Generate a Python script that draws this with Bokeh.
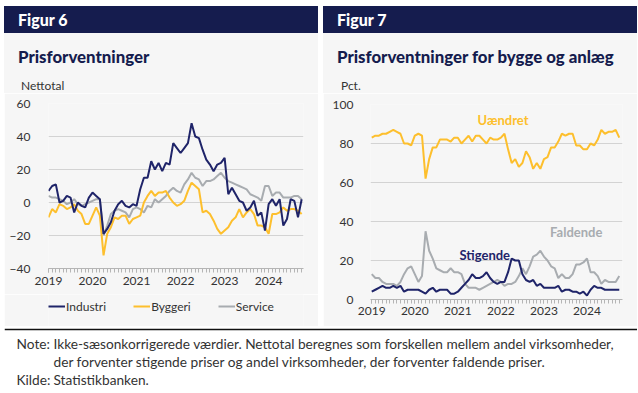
from bokeh.plotting import figure
from bokeh.models import (Range1d, FixedTicker, Label, Legend, LegendItem, Span,
                          Div, Spacer)
from bokeh.layouts import row, column
from bokeh.embed import file_html
from bokeh.resources import INLINE

# ---------------- data ----------------
months = list(range(70))          # Jan 2019 .. Oct 2024
year_ticks = [0, 12, 24, 36, 48, 60]
year_labels = ["2019", "2020", "2021", "2022", "2023", "2024"]

industri = [7, 10, 11, 0, 1, 4, 3, -6, 0, -2,
            -3, 3, 6, 4, 2, -19, -16, -12, -5, -1,
            1, -2, -3, -1, -2, 8, 15, 15, 25, 20,
            24, 19, 24, 23, 36, 33, 30, 33, 36, 48,
            40, 39, 32, 26, 23, 19, 23, 24, 27, 5,
            9, 5, 1, 0, -5, -3, 1, -8, -6, -17,
            -1, 2, -2, 2, -14, -10, 2, 1, -9, 2]
byggeri = [-9, -4, -6, -1, -2, -4, -3, -1, -5, -7,
           -13, -13, -8, -3, -8, -32, -19, -15, -9, -10,
           -8, -8, -13, -10, -9, -8, 0, 4, 7, 4,
           6, 6, 7, 3, 0, -2, -1, 1, 7, 12,
           10, 8, -6, -5, -7, -11, -16, -19, -17, -15,
           -11, -9, -4, -9, -6, -4, -7, -14, -14, -15,
           -19, -7, -7, -6, -3, -5, -4, -4, -5, -7]
service = [4, 3, 3, 2, 1, -1, 0, 2, -1, -2,
           -1, 0, 1, 2, 2, -20, -14, -7, -5, -4,
           -5, -6, -9, -4, -3, -4, -6, -2, -3, 2,
           0, 2, 4, 7, 9, 7, 6, 11, 14, 18,
           15, 14, 10, 13, 13, 14, 16, 18, 15, 13,
           12, 11, 10, 9, 8, 5, 4, 3, 1, 10,
           10, 4, 6, 6, 3, 3, 3, 4, 4, 2]

uaendret = [83, 84, 84, 85, 85, 86, 87, 86, 85, 80,
            80, 79, 84, 85, 84, 62, 72, 78, 78, 82,
            82, 82, 81, 83, 83, 80, 82, 84, 81, 84,
            84, 82, 80, 83, 82, 82, 83, 85, 77, 70,
            72, 68, 70, 76, 73, 67, 70, 67, 72, 73,
            78, 78, 81, 85, 84, 85, 85, 79, 79, 77,
            77, 80, 79, 82, 87, 85, 86, 86, 87, 83]
stigende = [4, 5, 6, 7, 6, 6, 7, 6, 7, 4,
            5, 5, 5, 5, 4, 3, 5, 6, 4, 5,
            5, 5, 3, 3, 4, 6, 8, 10, 13, 11,
            11, 12, 14, 11, 9, 8, 9, 9, 14, 21,
            20, 20, 13, 10, 9, 10, 7, 8, 6, 6,
            6, 6, 7, 4, 5, 5, 4, 4, 3, 4,
            2, 5, 7, 6, 6, 5, 5, 5, 5, 5]
faldende = [13, 11, 11, 9, 8, 8, 8, 7, 9, 13,
            16, 17, 13, 9, 12, 35, 25, 21, 16, 15,
            14, 14, 16, 14, 14, 13, 8, 6, 6, 6,
            5, 6, 7, 8, 9, 10, 9, 7, 8, 8,
            9, 12, 16, 13, 17, 22, 23, 25, 22, 20,
            17, 16, 11, 13, 11, 11, 13, 18, 18, 19,
            21, 14, 14, 12, 8, 10, 9, 9, 9, 12]

left_yticks = [-40, -20, 0, 20, 40, 60]
right_yticks = [0, 20, 40, 60, 80, 100]

# ---------------- style ----------------
FONT = "Lato"
NAVY = "#151c4e"
LNAVY = "#1f2469"
YELLOW = "#fdbf2d"
GRAY = "#a8acb0"
PANEL = "#f6f6f6"
TXT = "#333333"
GRID = "#d3d3d3"
AX = "#b5b5b5"

PW = 314      # panel width
HEAD_H = 87   # header block height


def header_div(fig_text, title_text, unit_text, tx, ux):
    html = (
        f'<div style="position:relative;width:{PW}px;height:{HEAD_H}px;'
        f'background:{PANEL};font-family:{FONT};overflow:hidden;">'
        f'<div style="position:absolute;left:0;top:0;width:{PW}px;height:27px;'
        f'background:{NAVY};"></div>'
        f'<div style="position:absolute;left:{tx}px;top:0;height:27px;'
        f'line-height:27px;color:#ffffff;font-weight:900;font-size:16px;'
        f'white-space:nowrap;">{fig_text}</div>'
        f'<div style="position:absolute;left:{tx}px;top:41px;line-height:20px;'
        f'color:{NAVY};font-weight:900;font-size:16.8px;white-space:nowrap;">'
        f'{title_text}</div>'
        f'<div style="position:absolute;left:{ux}px;top:72px;line-height:16px;'
        f'color:{TXT};font-size:12px;white-space:nowrap;">{unit_text}</div>'
        '</div>')
    return Div(text=html, width=PW, height=HEAD_H, margin=0)


def chart_fig(height, xr, yr, ml, mr, mt, mb, yticks):
    p = figure(width=PW, height=height, x_range=xr, y_range=yr,
               output_backend="svg", toolbar_location=None,
               min_border_left=ml, min_border_right=mr,
               min_border_top=mt, min_border_bottom=mb)
    p.background_fill_color = PANEL
    p.border_fill_color = PANEL
    p.outline_line_color = None
    p.xgrid.visible = False
    p.ygrid.grid_line_color = GRID
    p.ygrid.ticker = FixedTicker(ticks=yticks)
    p.yaxis.ticker = FixedTicker(ticks=yticks)
    p.yaxis.axis_line_color = None
    p.yaxis.major_tick_line_color = None
    p.yaxis.minor_tick_line_color = None
    p.yaxis.major_label_text_font = FONT
    p.yaxis.major_label_text_font_size = "12px"
    p.yaxis.major_label_text_color = TXT
    p.xaxis.ticker = FixedTicker(ticks=year_ticks, minor_ticks=months)
    p.xaxis.major_label_overrides = dict(zip(year_ticks, year_labels))
    p.xaxis.axis_line_color = AX
    p.xaxis.major_tick_line_color = AX
    p.xaxis.minor_tick_line_color = AX
    p.xaxis.major_tick_in = 0
    p.xaxis.major_tick_out = 4
    p.xaxis.minor_tick_in = 0
    p.xaxis.minor_tick_out = 4
    p.xaxis.major_label_text_font = FONT
    p.xaxis.major_label_text_font_size = "12px"
    p.xaxis.major_label_text_color = TXT
    return p


# ---------------- Figur 6 ----------------
h6 = header_div("Figur 6", "Prisforventninger", "Nettotal", 14, 17)
p6 = chart_fig(201, Range1d(0, 69.5), Range1d(-40, 60), 44, 15, 10, 26,
               left_yticks)
p6.yaxis.major_label_standoff = 12
p6.xaxis.major_label_standoff = 4

p6.line(months, service, line_color=GRAY, line_width=2)
p6.line(months, byggeri, line_color=YELLOW, line_width=2)
p6.line(months, industri, line_color=LNAVY, line_width=2)

# legend strip below the chart (same frame borders as the chart);
# its own copies of the lines lie outside its visible ranges
l6 = figure(width=PW, height=32, x_range=Range1d(1000, 1001),
            y_range=Range1d(1000, 1001),
            output_backend="svg", toolbar_location=None,
            x_axis_location=None, y_axis_location=None,
            min_border_left=44, min_border_right=15,
            min_border_top=0, min_border_bottom=0)
l6.grid.visible = False
l6.outline_line_color = None
l6.background_fill_color = PANEL
l6.border_fill_color = PANEL
legend_names = ["Industri", "Byggeri", "Service"]
legend_colors = [LNAVY, YELLOW, GRAY]
legend_series = [industri, byggeri, service]
items = []
for n, c, s in zip(legend_names, legend_colors, legend_series):
    r = l6.line(months, s, line_color=c, line_width=2)
    items.append(LegendItem(label=n, renderers=[r]))
legend = Legend(items=items, orientation="horizontal", location=(0, 12),
                border_line_color=None, background_fill_alpha=0,
                glyph_width=17, glyph_height=16, label_height=16,
                label_standoff=1, spacing=27, padding=0, margin=0,
                label_text_font=FONT, label_text_font_size="12px",
                label_text_color=TXT)
l6.add_layout(legend, "center")

# ---------------- Figur 7 ----------------
h7 = header_div("Figur 7", "Prisforventninger for bygge og anlæg", "Pct.", 14, 18)
p7 = chart_fig(233, Range1d(-0.35, 69.9), Range1d(0, 100), 47, 15, 11, 27,
               right_yticks)
p7.yaxis.major_label_standoff = 11
p7.xaxis.major_label_standoff = 3

p7.line(months, faldende, line_color=GRAY, line_width=2)
p7.line(months, stigende, line_color=LNAVY, line_width=2)
p7.line(months, uaendret, line_color=YELLOW, line_width=2)

series_names = ["Uændret", "Faldende", "Stigende"]
series_colors = [YELLOW, GRAY, LNAVY]
name_x = [36.6, 57.0, 31.5]
name_y = [92.0, 34.5, 23.0]
for n, c, lx, ly in zip(series_names, series_colors, name_x, name_y):
    p7.add_layout(Label(x=lx, y=ly, text=n, text_color=c, text_font=FONT,
                        text_font_style="bold", text_font_size="13px",
                        text_align="center", text_baseline="middle"))

# ---------------- notes ----------------
NW, NH = 633, 66
pn = figure(width=NW, height=NH, x_range=Range1d(0, NW), y_range=Range1d(NH, 0),
            output_backend="svg", toolbar_location=None,
            x_axis_location=None, y_axis_location=None, min_border=0)
pn.grid.visible = False
pn.outline_line_color = None
pn.background_fill_color = "white"
pn.border_fill_color = "white"
pn.add_layout(Span(location=3, dimension="width", line_color="#111111",
                   line_width=1.5))
note_rows = [(12, 17, "Note:"),
             (49, 17, "Ikke-sæsonkorrigerede værdier. Nettotal beregnes som forskellen mellem andel virksomheder,"),
             (49, 35, "der forventer stigende priser og andel virksomheder, der forventer faldende priser."),
             (12, 53, "Kilde:"),
             (49, 53, "Statistikbanken.")]
for nx, ny, t in note_rows:
    pn.add_layout(Label(x=nx, y=ny, text=t, text_color=TXT, text_font=FONT,
                        text_font_size="13.7px", text_baseline="middle"))

panels = row(column(h6, p6, l6), column(h7, p7), spacing=5)
layout = row(Spacer(width=4, height=1),
             column(Spacer(width=1, height=6), panels, pn))
open("out.html", "w").write(file_html(layout, INLINE))
